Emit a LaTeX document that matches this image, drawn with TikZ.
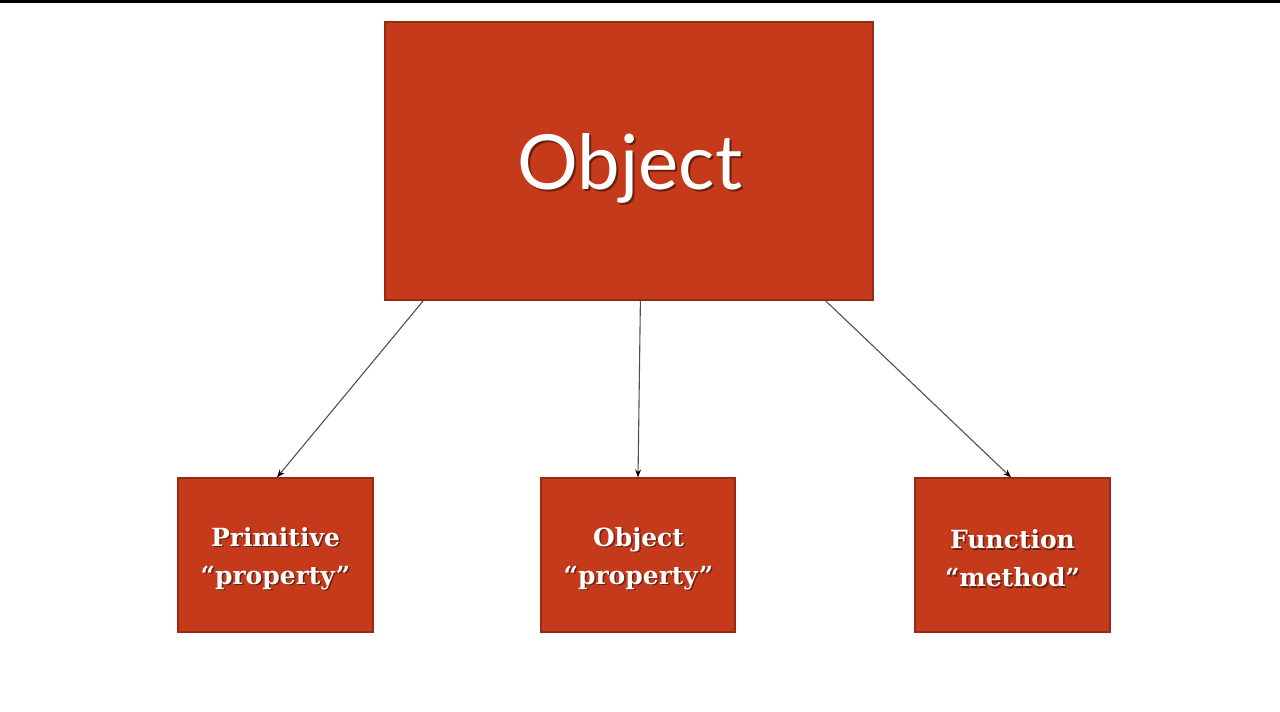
\documentclass[tikz,border=0pt]{standalone}
\usepackage{fontspec}
\setmainfont{DejaVu Serif}
\newfontfamily\headfont{Lato}
\usetikzlibrary{arrows.meta}
\definecolor{boxred}{RGB}{196,58,26}
\definecolor{boxedge}{RGB}{150,42,18}
\definecolor{linkgray}{RGB}{80,80,80}
\begin{document}
\begin{tikzpicture}[x=1pt,y=-1pt,
  redbox/.style={fill=boxred,draw=boxedge,line width=1.2pt,inner sep=0pt},
  boxtext/.style={text=white,align=center,font=\bfseries\fontsize{25}{38}\selectfont},
  shadowtext/.style={text=black,opacity=0.45,align=center,font=\bfseries\fontsize{25}{38}\selectfont},
  link/.style={draw=linkgray,line width=1.1pt,-{Stealth[length=8pt,width=6pt,black]}}]
\useasboundingbox (0,0) rectangle (1280,712);
\fill[white] (0,0) rectangle (1280,712);
\fill[black] (0,0) rectangle (1280,2.5);

% boxes
\node[redbox,minimum width=488pt,minimum height=278pt] (obj) at (629,161) {};
\node[redbox,minimum width=195pt,minimum height=154pt] (prim) at (275.5,555) {};
\node[redbox,minimum width=194pt,minimum height=154pt] (objp) at (638,555) {};
\node[redbox,minimum width=195pt,minimum height=154pt] (func) at (1012.5,555) {};

% labels
\node[text=black,opacity=0.45,font=\headfont\fontsize{76}{80}\selectfont] (objlabs) at (632,170) {Object};
\node[text=white,font=\headfont\fontsize{76}{80}\selectfont] (objlab) at (630,168) {Object};
\node[shadowtext] (primlabs) at (277,560) {Primitive\\“property”};
\node[boxtext] (primlab) at (275.5,558.5) {Primitive\\“property”};
\node[shadowtext] (objplabs) at (640,560) {Object\\“property”};
\node[boxtext] (objplab) at (638.5,558.5) {Object\\“property”};
\node[shadowtext] (funclabs) at (1014,560) {Function\\“method”};
\node[boxtext] (funclab) at (1012.5,558.5) {Function\\“method”};

% connectors
\coordinate (s1) at ([xshift=39pt]obj.south west);
\coordinate (s2) at ([xshift=256pt]obj.south west);
\coordinate (s3) at ([xshift=441pt]obj.south west);
\draw[link] (s1) -- ([xshift=1.5pt]prim.north);
\draw[link] (s2) -- (objp.north);
\draw[link] (s3) -- ([xshift=-1.5pt]func.north);
\end{tikzpicture}
\end{document}
